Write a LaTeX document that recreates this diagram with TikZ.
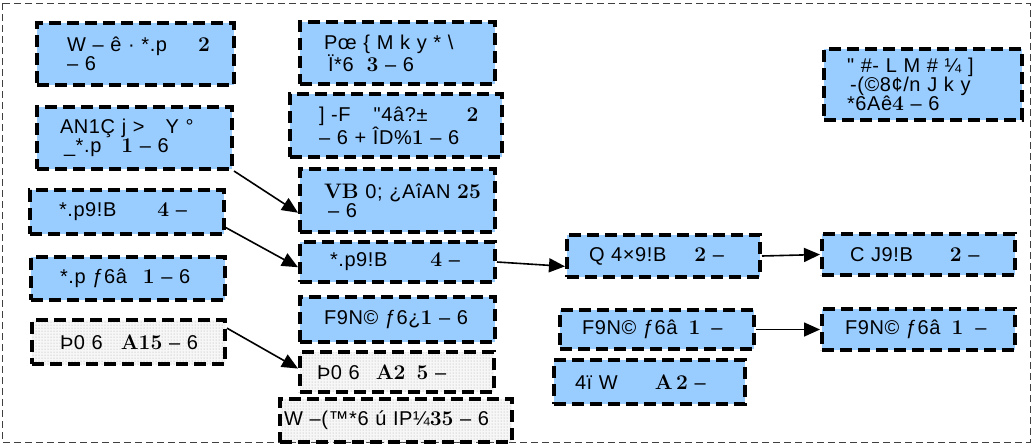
\documentclass[tikz,border=0pt]{standalone}
\usepackage{fontspec}
\usetikzlibrary{arrows.meta,patterns}
\newfontfamily\boxfont[LetterSpace=3]{Liberation Sans}
\newcommand\bn[1]{{\rmfamily\bfseries\fontsize{21}{19}\selectfont #1}}
\definecolor{boxblue}{RGB}{153,204,255}

\begin{document}
\begin{tikzpicture}[x=1pt,y=-1pt,
    box/.style={draw=black, line width=4pt, dash pattern=on 12pt off 6pt,
        anchor=north west, align=left, inner xsep=0pt, inner ysep=0pt,
        font=\boxfont\fontsize{20}{19}\selectfont},
    bluebox/.style={box, fill=boxblue},
    dotbox/.style={box, preaction={fill=gray!6}, pattern=dots, pattern color=gray!70},
    sz/.style n args={3}{minimum width=#1pt, minimum height=#2pt, text width=#3pt},
    arr/.style={-{Triangle[length=16pt,width=14pt]}, line width=1.6pt}]
            \useasboundingbox (0,0) rectangle (1032,445);
            \draw[dash pattern=on 7pt off 4pt, line width=1pt, black!75] (2,3) rectangle (1030,442);

            % left column
            \node[bluebox, sz={197}{62}{137}] (l1) at (35,21) {\mbox{W – ê · *.p\hspace{31pt}\bn{2}}\\– 6};
            \node[bluebox, sz={195}{62}{149}] (l2) at (35,105) {\mbox{AN1Ç j >\hspace{21pt}Y °}\\\mbox{\hspace*{4pt}\_*.p\hspace{20pt}\bn{1} – 6}};
            \node[bluebox, sz={194}{44}{136}] (l3) at (28,188) {\mbox{*.p9!B\hspace{41pt}\bn{4} –}};
            \node[bluebox, sz={194}{43}{136}] (l4) at (29,255) {\mbox{*.p ƒ6â\hspace{16pt}\bn{1} – 6}};
            \node[dotbox, sz={193}{44}{137}] (l5) at (30,318) {\mbox{Þ0 6\hspace{18pt}\bn{A15} – 6}};

            % middle column
            \node[bluebox, sz={195}{62}{147}] (m1) at (298,20) {\mbox{Pœ \{ M k y * \textbackslash}\\\mbox{\hspace*{4pt}Ï*6\hspace{13pt}\bn{3} – 6}};
            \node[bluebox, sz={212}{63}{154}] (m2) at (288,92) {\mbox{] -F\hspace{23pt}"4â?±\hspace{39pt}\bn{2}}\\\mbox{– 6 + ÎD\%\bn{1} – 6}};
            \node[bluebox, sz={195}{63}{147}] (m3) at (298,167) {\mbox{\bn{VB} 0; ¿AîAN \bn{25}}\\\hspace*{4pt}– 6};
            \node[bluebox, sz={195}{40}{135}] (m4) at (298,240) {\mbox{*.p9!B\hspace{43pt}\bn{4} –}};
            \node[bluebox, sz={195}{45}{147}] (m5) at (298,295) {\mbox{F9N© ƒ6¿\bn{1} – 6}};
            \node[dotbox, sz={194}{40}{160}] (m6) at (298,350) {\mbox{Þ0 6\hspace{16pt}\bn{A2}\hspace{11pt}\bn{5} –}};
            \node[dotbox, sz={232}{43}{224}] (m7) at (278,397) {\mbox{W –(™*6 ú IP¼\bn{35} – 6}};

            % third column
            \node[bluebox, sz={193}{42}{149}] (c1) at (565,233) {\mbox{Q 4×9!B\hspace{28pt}\bn{2} –}};
            \node[bluebox, sz={194}{39}{150}] (c2) at (558,308) {\mbox{F9N© ƒ6â\hspace{11pt}\bn{1}\hspace{11pt}–}};
            \node[bluebox, sz={191}{44}{149}] (c3) at (552,358) {\mbox{4ï W\hspace{37pt}\bn{A\,2} –}};

            % right column
            \node[bluebox, sz={198}{71}{152}] (r1) at (822,47) {\mbox{" \#- L M \# ¼ ]}\\\mbox{\hspace*{3pt}-(©8¢/n J k y}\\\mbox{*6Aê\bn{4} – 6}};
            \node[bluebox, sz={193}{41}{137}] (r2) at (820,232) {\mbox{C J9!B\hspace{37pt}\bn{2} –}};
            \node[bluebox, sz={193}{41}{147}] (r3) at (820,307) {\mbox{F9N© ƒ6â\hspace{11pt}\bn{1}\hspace{12pt}–}};

            \path [arr] (l2.south east) edge (m3.187);
            \path [arr] (l3.-9) edge (m4.183);
            \path [arr] (l5.8) edge (m6.178);
            \path [arr] (m4.east) edge (c1.186);
            \path [arr] (c1.east) edge (r2.west);
            \path [arr] (c2.east) edge (r3.west);
\end{tikzpicture}
\end{document}
